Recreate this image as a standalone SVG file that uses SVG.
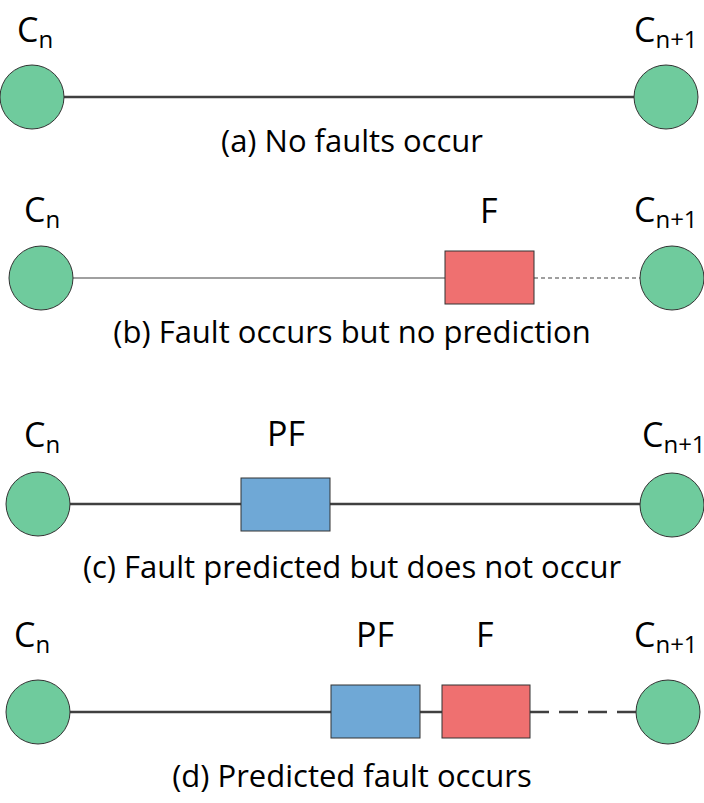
<svg xmlns="http://www.w3.org/2000/svg" width="704" height="803" viewBox="0 0 704 803">
<style>
.c{fill:#6fcb9d;stroke:#333;stroke-width:1}
.f{fill:#ef7070;stroke:#333;stroke-width:1}
.p{fill:#6fa8d6;stroke:#333;stroke-width:1}
.l{stroke:#404040;stroke-width:2.5;fill:none}
.t{stroke:#808080;stroke-width:1.5;fill:none}
text{font-family:"Open Sans","Liberation Sans",sans-serif;fill:#000}
.lb{font-size:34px}
.sb{font-size:24px}
.cap{font-size:31px;text-anchor:middle}
</style>
<g id="connectors">
<line class="l" x1="64" y1="97" x2="634" y2="97"/>
<line class="t" x1="73" y1="278" x2="445" y2="278"/>
<line class="t" x1="534" y1="278" x2="640" y2="278" stroke-dasharray="4,3"/>
<line class="l" x1="70" y1="504" x2="241" y2="504"/>
<line class="l" x1="330" y1="504" x2="640" y2="504"/>
<line class="l" x1="70" y1="712" x2="331" y2="712"/>
<line class="l" x1="420" y1="712" x2="442" y2="712"/>
<line class="l" x1="530" y1="712" x2="636" y2="712" stroke-dasharray="19,10"/>
</g>
<g id="a-cn"><circle class="c" cx="32" cy="97" r="32"/><text class="lb" x="17" y="42">C<tspan class="sb" dy="6">n</tspan></text></g>
<g id="a-cn1"><circle class="c" cx="666" cy="97" r="32"/><text class="lb" x="634" y="42">C<tspan class="sb" dy="6">n+1</tspan></text></g>
<g id="a-cap"><text class="cap" x="352" y="152">(a) No faults occur</text></g>
<g id="b-cn"><circle class="c" cx="41" cy="278" r="32"/><text class="lb" x="24" y="222">C<tspan class="sb" dy="6">n</tspan></text></g>
<g id="b-f"><rect class="f" x="445" y="251" width="89" height="53"/><text class="lb" x="480" y="223">F</text></g>
<g id="b-cn1"><circle class="c" cx="672" cy="278" r="32"/><text class="lb" x="634" y="222">C<tspan class="sb" dy="6">n+1</tspan></text></g>
<g id="b-cap"><text class="cap" x="352" y="343">(b) Fault occurs but no prediction</text></g>
<g id="c-cn"><circle class="c" cx="38" cy="504" r="32"/><text class="lb" x="24" y="447">C<tspan class="sb" dy="6">n</tspan></text></g>
<g id="c-pf"><rect class="p" x="241" y="478" width="89" height="53"/><text class="lb" x="267" y="446">PF</text></g>
<g id="c-cn1"><circle class="c" cx="672" cy="505" r="32"/><text class="lb" x="642" y="447">C<tspan class="sb" dy="6">n+1</tspan></text></g>
<g id="c-cap"><text class="cap" x="352" y="578">(c) Fault predicted but does not occur</text></g>
<g id="d-cn"><circle class="c" cx="38" cy="712" r="32"/><text class="lb" x="14" y="647">C<tspan class="sb" dy="6">n</tspan></text></g>
<g id="d-pf"><rect class="p" x="331" y="685" width="89" height="53"/><text class="lb" x="356" y="647">PF</text></g>
<g id="d-f"><rect class="f" x="442" y="685" width="88" height="53"/><text class="lb" x="476" y="647">F</text></g>
<g id="d-cn1"><circle class="c" cx="668" cy="712" r="32"/><text class="lb" x="634" y="647">C<tspan class="sb" dy="6">n+1</tspan></text></g>
<g id="d-cap"><text class="cap" x="352" y="787">(d) Predicted fault occurs</text></g>
</svg>
